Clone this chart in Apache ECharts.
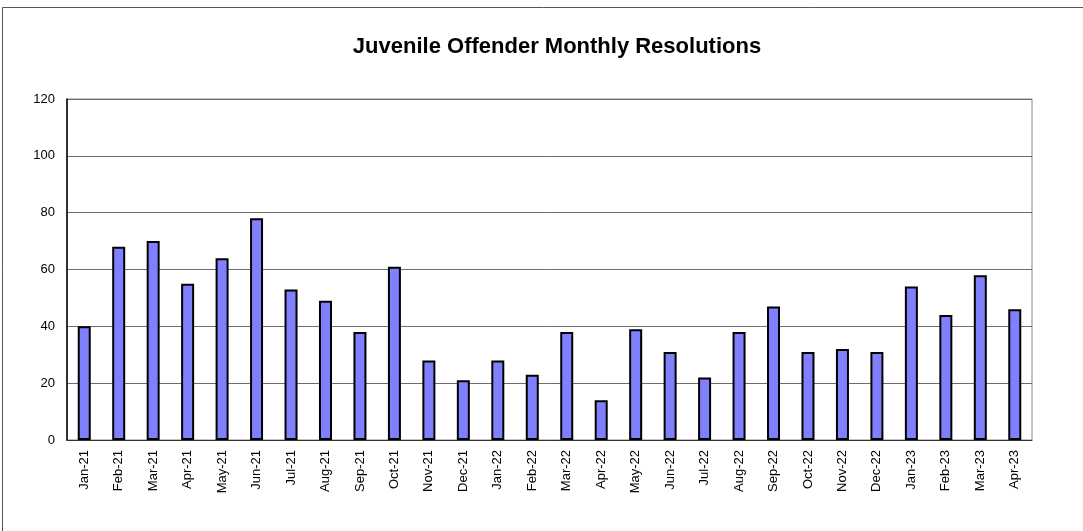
<!DOCTYPE html>
<html><head><meta charset="utf-8">
<script src="https://cdn.jsdelivr.net/npm/echarts@6/dist/echarts.min.js"></script>
<style>html,body{margin:0;padding:0;background:#fff;}#c{width:1083px;height:531px;}</style>
</head><body><div id="c"></div>
<script>
const categories = ["Jan-21","Feb-21","Mar-21","Apr-21","May-21","Jun-21","Jul-21","Aug-21","Sep-21","Oct-21","Nov-21","Dec-21","Jan-22","Feb-22","Mar-22","Apr-22","May-22","Jun-22","Jul-22","Aug-22","Sep-22","Oct-22","Nov-22","Dec-22","Jan-23","Feb-23","Mar-23","Apr-23"];
const resolutions = [40,68,70,55,64,78,53,49,38,61,28,21,28,23,38,14,39,31,22,38,47,31,32,31,54,44,58,46];
const titleText = "Juvenile Offender Monthly Resolutions";

const chart = echarts.init(document.getElementById('c'), null, {renderer:'canvas'});
chart.setOption({
  animation:false,
  backgroundColor:'#fff',
  title:{text:titleText,left:552,top:31,textAlign:'center',
    textStyle:{fontFamily:'Liberation Sans, Arial, sans-serif',fontSize:22,fontWeight:'bold',color:'#000'}},
  graphic:[{type:'rect',shape:{x:2.5,y:7.5,width:1200,height:700},
    style:{fill:'none',stroke:'#555',lineWidth:1},silent:true,z:-1}],
  grid:{left:67,right:51,top:99,bottom:91,show:true,borderColor:'#888',borderWidth:1,backgroundColor:'transparent'},
  xAxis:{type:'category',data:categories,
    axisLine:{show:true,lineStyle:{color:'#333',width:1}},
    axisTick:{show:false},
    axisLabel:{rotate:90,interval:0,margin:10,fontFamily:'Liberation Sans, Arial, sans-serif',fontSize:13,color:'#000'}},
  yAxis:{type:'value',min:0,max:120,interval:20,
    axisLine:{show:true,lineStyle:{color:'#000',width:1.5}},
    axisTick:{show:false},
    axisLabel:{margin:12,fontFamily:'Liberation Sans, Arial, sans-serif',fontSize:13,color:'#000'},
    splitLine:{show:true,lineStyle:{color:'#6e6e6e',width:1}}},
  series:[{type:'bar',data:resolutions,barWidth:13,
    itemStyle:{color:'#8080ff',borderColor:'#000',borderWidth:2}}]
});
</script></body></html>
